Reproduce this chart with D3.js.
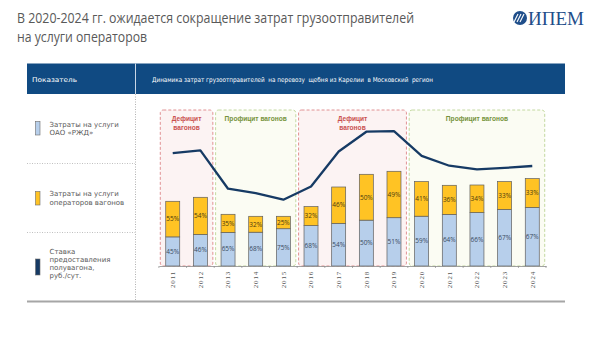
<!DOCTYPE html>
<html><head><meta charset="utf-8">
<script src="https://cdn.jsdelivr.net/npm/d3@7"></script>
<style>body{margin:0;background:#fff;}svg{display:block;}</style>
</head><body>
<svg id="c" width="600" height="337"></svg>
<script>
// ---- data ----
const years = ["2011","2012","2013","2014","2015","2016","2017","2018","2019","2020","2021","2022","2023","2024"];
const totalCost = [1294,1374,1034,994,994,1188,1580,1834,1894,1688,1614,1620,1688,1748];
const rzdShare = [45,46,65,68,75,68,54,50,51,59,64,66,67,67];
const operatorShare = [55,54,35,32,25,32,46,50,49,41,36,34,33,33];
const rate = [1150,1200,500,420,300,540,1180,1540,1550,1100,920,855,880,915];
const regionFrom = ["2011","2013","2016","2020"];
const regionTo = ["2012","2015","2019","2024"];
const regionLabel = [["Дефицит","вагонов"],["Профицит вагонов"],["Дефицит","вагонов"],["Профицит вагонов"]];
const regionType = ["deficit","surplus","deficit","surplus"];
const legendLabels = [["Затраты на услуги","ОАО «РЖД»"],["Затраты на услуги","операторов вагонов"],["Ставка","предоставления","полувагона,","руб./сут."]];
const titleLines = ["В 2020-2024 гг. ожидается сокращение затрат грузоотправителей","на услуги операторов"];
const headerLeft = "Показатель";
const headerRight = "Динамика затрат грузоотправителей  на перевозу  щебня из Карелии  в Московский  регион";

// ---- styles ----
const C = {blue:"#b7cfeb", yellow:"#ffc324", line:"#163a64", header:"#104a82", text:"#595959",
  defStroke:"#d9777a", defFill:"#fcf3f3", surStroke:"#b5cf8a", surFill:"#fbfcf3", defText:"#c9504f", surText:"#76933c"};
const sans = "'Open Sans', 'Liberation Sans', Arial, sans-serif";
const small = "'DejaVu Sans', Verdana, sans-serif";

const svg = d3.select("#c");

// Title
const titleLen = [397, 130];
svg.append("g").selectAll("text").data(titleLines).join("text")
  .attr("x",17).attr("y",(d,i)=>23+i*18.5)
  .attr("textLength",(d,i)=>titleLen[i]).attr("lengthAdjust","spacingAndGlyphs")
  .attr("font-family",sans).attr("font-size",14.8).attr("fill",C.text).text(d=>d);

// Logo
const logo = svg.append("g");
logo.append("circle").attr("cx",520).attr("cy",18).attr("r",7).attr("fill","#1f4e8a");
[-3,0,3].forEach(o=>logo.append("line").attr("x1",517+o).attr("y1",22).attr("x2",521+o).attr("y2",14)
  .attr("stroke","#fff").attr("stroke-width",1.1));
logo.append("text").attr("x",528).attr("y",25).attr("font-family","'Liberation Serif','Times New Roman',serif")
  .attr("font-size",19).attr("fill","#1f4e8a").text("ИПЕМ");

// Header band
svg.append("rect").attr("x",27).attr("y",63.5).attr("width",538).attr("height",30.5).attr("fill",C.header);
svg.append("line").attr("x1",135.5).attr("x2",135.5).attr("y1",63.5).attr("y2",94).attr("stroke","#c8d6e6").attr("stroke-width",1);
svg.append("text").attr("x",32).attr("y",80).attr("dy","0.35em").attr("font-family",small).attr("font-size",6.6)
  .attr("textLength",45).attr("lengthAdjust","spacingAndGlyphs").attr("fill","#fff").text(headerLeft);
svg.append("text").attr("x",152).attr("y",80).attr("dy","0.35em").attr("font-family",small).attr("font-size",6.6).attr("fill","#fff")
  .attr("textLength",281).attr("lengthAdjust","spacingAndGlyphs")
  .attr("xml:space","preserve").style("white-space","pre").text(headerRight);

// grid separators
svg.append("line").attr("x1",135.5).attr("x2",135.5).attr("y1",94).attr("y2",300).attr("stroke","#b0b0b0").attr("stroke-dasharray","1,1.5");
[163.5,232.5].forEach(y=>svg.append("line").attr("x1",27).attr("x2",135).attr("y1",y).attr("y2",y).attr("stroke","#c0c0c0").attr("stroke-dasharray","1,1.5"));
svg.append("line").attr("x1",27).attr("x2",565).attr("y1",301.5).attr("y2",301.5).attr("stroke","#a6a6a6").attr("stroke-width",2);

// Legend
const legColors = [C.blue, C.yellow, C.line];
const legTop = [124.3, 194, 251.7];
const legSw = [[121.5,135],[191.5,205],[259,275]];
legendLabels.forEach((lines,i)=>{
  svg.append("rect").attr("x",35.5).attr("y",legSw[i][0]).attr("width",4.5).attr("height",legSw[i][1]-legSw[i][0])
    .attr("fill",legColors[i]).attr("stroke","#6b6b6b").attr("stroke-width",0.6);
  svg.append("g").selectAll("text").data(lines).join("text")
    .attr("x",49.5).attr("y",(d,j)=>legTop[i]+j*(i==2?8.1:8.7)).attr("dy","0.35em")
    .attr("font-family",small).attr("font-size",7).attr("fill",C.text).text(d=>d);
});

// Scales
const x = d3.scaleBand().domain(years).range([158.9,546.1]).paddingInner(0.494).paddingOuter(0.247);
const y = d3.scaleLinear().domain([0,2000]).range([266,166]);
const y2 = d3.scaleLinear().domain([0,2000]).range([216.15,106.5]);
const cx = d => x(d)+x.bandwidth()/2;
const step = x.step();

// Regions
const rg = svg.append("g");
regionFrom.forEach((f,i)=>{
  const x0 = cx(f)-step*0.45, x1 = cx(regionTo[i])+step*0.45;
  const def = regionType[i]==="deficit";
  rg.append("rect").attr("x",x0).attr("y",110).attr("width",x1-x0).attr("height",156).attr("rx",3)
    .attr("fill",def?C.defFill:C.surFill).attr("stroke",def?C.defStroke:C.surStroke)
    .attr("stroke-width",0.8).attr("stroke-dasharray","3,2");
  rg.append("g").selectAll("text").data(regionLabel[i]).join("text")
    .attr("x",(x0+x1)/2).attr("y",(d,j)=>118.3+j*9).attr("dy","0.35em").attr("text-anchor","middle")
    .attr("font-family","'Liberation Sans',Arial,sans-serif").attr("font-weight","bold").attr("font-size",6.6)
    .attr("fill",def?C.defText:C.surText).text(d=>d);
});

// Bars
const bars = svg.append("g");
years.forEach((yr,i)=>{
  const tot = totalCost[i];
  const r = tot*rzdShare[i]/(rzdShare[i]+operatorShare[i]);
  bars.append("rect").attr("x",x(yr)).attr("width",x.bandwidth()).attr("y",y(r)).attr("height",y(0)-y(r))
    .attr("fill",C.blue).attr("stroke","#5f5f5f").attr("stroke-width",0.7);
  bars.append("rect").attr("x",x(yr)).attr("width",x.bandwidth()).attr("y",y(tot)).attr("height",y(r)-y(tot))
    .attr("fill",C.yellow).attr("stroke","#5f5f5f").attr("stroke-width",0.7);
  bars.append("text").attr("x",cx(yr)).attr("y",(y(0)+y(r))/2).attr("dy","0.35em").attr("text-anchor","middle")
    .attr("font-family",sans).attr("font-size",6.5).attr("fill","#3a4a5e").text(rzdShare[i]+"%");
  bars.append("text").attr("x",cx(yr)).attr("y",(y(r)+y(tot))/2).attr("dy","0.35em").attr("text-anchor","middle")
    .attr("font-family",sans).attr("font-size",6.5).attr("fill","#4a3a10").text(operatorShare[i]+"%");
});

// Axis
const ax = svg.append("g").attr("transform","translate(0,266)").call(d3.axisBottom(x).tickSize(0).tickFormat(""));
ax.select(".domain").attr("stroke","#8c8c8c").attr("stroke-width",0.8);
years.forEach(yr=>ax.append("line").attr("x1",x(yr)-(step-x.bandwidth())/2).attr("x2",x(yr)-(step-x.bandwidth())/2).attr("y1",0).attr("y2",2).attr("stroke","#8c8c8c").attr("stroke-width",0.7));
ax.append("line").attr("x1",546).attr("x2",546).attr("y1",0).attr("y2",2).attr("stroke","#8c8c8c").attr("stroke-width",0.7);
svg.append("g").selectAll("text").data(years).join("text")
  .attr("transform",d=>`translate(${cx(d)},271) rotate(-90)`).attr("text-anchor","end").attr("dy","0.35em")
  .attr("font-family","'Liberation Serif','Times New Roman',serif").attr("font-size",7).attr("letter-spacing",0.8)
  .attr("fill","#555").text(d=>d);

// Line
svg.append("path").datum(years).attr("fill","none").attr("stroke",C.line).attr("stroke-width",2.3)
  .attr("stroke-linejoin","round")
  .attr("d",d3.line().x(d=>cx(d)).y((d,i)=>y2(rate[i])));
</script>
</body></html>
